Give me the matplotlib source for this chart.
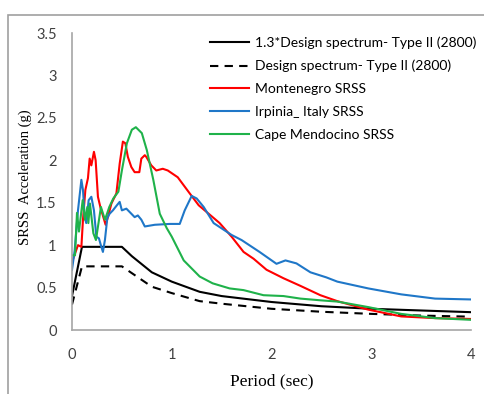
import matplotlib
matplotlib.use('Agg')
import matplotlib.pyplot as plt
from matplotlib.patches import Rectangle

# design spectrum (Type II, 2800)
design_T = [0.0, 0.1, 0.5, 0.6, 0.8, 1.0, 1.28, 1.5, 2.0, 2.5, 3.0, 3.5, 4.0]
design_A = [0.30, 0.75, 0.75, 0.67, 0.51, 0.435, 0.34, 0.31, 0.25, 0.215, 0.19, 0.17, 0.157]
design13_A = [0.40, 0.98, 0.98, 0.87, 0.68, 0.57, 0.45, 0.40, 0.33, 0.28, 0.25, 0.23, 0.21]

# Montenegro SRSS
mont_T = [0.0, 0.06, 0.094, 0.11, 0.134, 0.16, 0.177, 0.194, 0.22, 0.237, 0.26, 0.284,
          0.337, 0.36, 0.395, 0.445, 0.478, 0.51, 0.535, 0.56, 0.595, 0.628, 0.675, 0.695,
          0.73, 0.745, 0.795, 0.845, 0.91, 0.96, 1.06, 1.18, 1.27, 1.33, 1.48, 1.60, 1.72,
          1.82, 1.95, 2.12, 2.29, 2.49, 2.66, 2.97, 3.3, 3.64, 4.0]
mont_A = [0.80, 1.0, 0.98, 1.30, 1.65, 1.79, 2.02, 1.94, 2.10, 2.0, 1.57, 1.45,
          1.24, 1.33, 1.49, 1.61, 1.96, 2.22, 2.20, 2.04, 1.92, 1.86, 1.86, 2.02,
          2.06, 2.04, 1.94, 1.88, 1.90, 1.88, 1.80, 1.61, 1.47, 1.41, 1.26, 1.10, 0.92,
          0.84, 0.71, 0.61, 0.52, 0.41, 0.34, 0.24, 0.16, 0.14, 0.13]

# Irpinia_ Italy SRSS
irp_T = [0.0, 0.027, 0.06, 0.094, 0.11, 0.127, 0.143, 0.167, 0.194, 0.22, 0.244, 0.27,
         0.294, 0.31, 0.33, 0.354, 0.377, 0.41, 0.45, 0.478, 0.50, 0.545, 0.595, 0.628,
         0.66, 0.695, 0.73, 0.83, 0.98, 1.08, 1.13, 1.20, 1.25, 1.32, 1.42, 1.60, 1.70,
         1.88, 2.05, 2.14, 2.25, 2.39, 2.55, 2.66, 2.97, 3.3, 3.64, 4.0]
irp_A = [0.71, 0.94, 1.41, 1.77, 1.65, 1.33, 1.26, 1.53, 1.57, 1.41, 1.10, 1.08,
         0.98, 0.92, 1.06, 1.32, 1.37, 1.41, 1.47, 1.51, 1.41, 1.43, 1.37, 1.33,
         1.35, 1.30, 1.22, 1.24, 1.25, 1.25, 1.41, 1.58, 1.55, 1.45, 1.26, 1.12, 1.06,
         0.92, 0.78, 0.82, 0.785, 0.68, 0.62, 0.57, 0.49, 0.42, 0.37, 0.36]

# Cape Mendocino SRSS
cape_T = [0.0, 0.03, 0.05, 0.07, 0.107, 0.13, 0.154, 0.164, 0.18, 0.214, 0.24, 0.29,
          0.33, 0.354, 0.374, 0.414, 0.465, 0.50, 0.55, 0.60, 0.64, 0.70, 0.75, 0.815,
          0.88, 0.95, 1.0, 1.12, 1.28, 1.41, 1.58, 1.72, 1.92, 2.12, 2.29, 2.49, 2.66,
          2.97, 3.3, 3.64, 4.0]
cape_A = [0.88, 0.88, 1.38, 1.16, 1.53, 1.30, 1.45, 1.26, 1.49, 1.14, 1.06, 1.45,
          1.30, 1.38, 1.45, 1.55, 1.63, 1.88, 2.20, 2.36, 2.39, 2.32, 2.12, 1.77,
          1.37, 1.20, 1.10, 0.82, 0.63, 0.55, 0.49, 0.47, 0.41, 0.40, 0.37, 0.35, 0.335,
          0.27, 0.19, 0.14, 0.12]

labels = ['1.3*Design spectrum- Type II (2800)', 'Design spectrum- Type II (2800)',
          'Montenegro SRSS', 'Irpinia_ Italy SRSS', 'Cape Mendocino SRSS']

fig = plt.figure(figsize=(4.84, 3.94), dpi=100)
ax = fig.add_axes([72/484, 1-330/394, (471-72)/484, (330-33)/394])

# outer grey frame (cut by the image edge on right and bottom)
fig.patches.append(Rectangle((8/484, -0.1), 1.2, 1-15/394+0.1, transform=fig.transFigure,
                             fill=False, edgecolor='#a0a0a0', linewidth=1.2))

lw = 1.5
ax.plot(design_T, design13_A, color='black', lw=lw, label=labels[0])
ax.plot(design_T, design_A, color='black', lw=lw, ls=(0, (4, 3)), label=labels[1])
ax.plot(mont_T, mont_A, color='#ff0000', lw=lw, label=labels[2])
ax.plot(irp_T, irp_A, color='#1f77c8', lw=lw, label=labels[3])
ax.plot(cape_T, cape_A, color='#1fb24a', lw=lw, label=labels[4])

ax.set_xlim(0, 4)
ax.set_ylim(0, 3.5)
ax.set_xticks([0, 1, 2, 3, 4])
ax.set_yticks([0, 0.5, 1, 1.5, 2, 2.5, 3, 3.5])
ax.set_yticklabels(['0', '0.5', '1', '1.5', '2', '2.5', '3', '3.5'])
ax.tick_params(length=0, labelsize=10.5, labelcolor='#404040')
ax.tick_params(axis='x', pad=13)
ax.tick_params(axis='y', pad=11)
for lab in ax.get_xticklabels() + ax.get_yticklabels():
    lab.set_fontfamily('Lato')

for s in ['top', 'right']:
    ax.spines[s].set_visible(False)
for s in ['left', 'bottom']:
    ax.spines[s].set_color('#a6a6a6')
    ax.spines[s].set_linewidth(1.2)

ax.set_xlabel('Period (sec)', fontfamily='Liberation Serif', fontsize=12.5, labelpad=8)
ax.set_ylabel('SRSS  Acceleration (g)', fontfamily='Liberation Serif', fontsize=10.5)
ax.yaxis.set_label_coords(-0.10, 0.513)

# right end of legend text sits at ~476 px, like the reference
leg = ax.legend(loc='upper right', bbox_to_anchor=((476-72)/399, 0.988), frameon=False,
                borderpad=0, borderaxespad=0,
                handlelength=2.8, handletextpad=0.4, labelspacing=0.78,
                prop={'family': 'Lato', 'size': 10})

fig.savefig('out.png', dpi=100)
